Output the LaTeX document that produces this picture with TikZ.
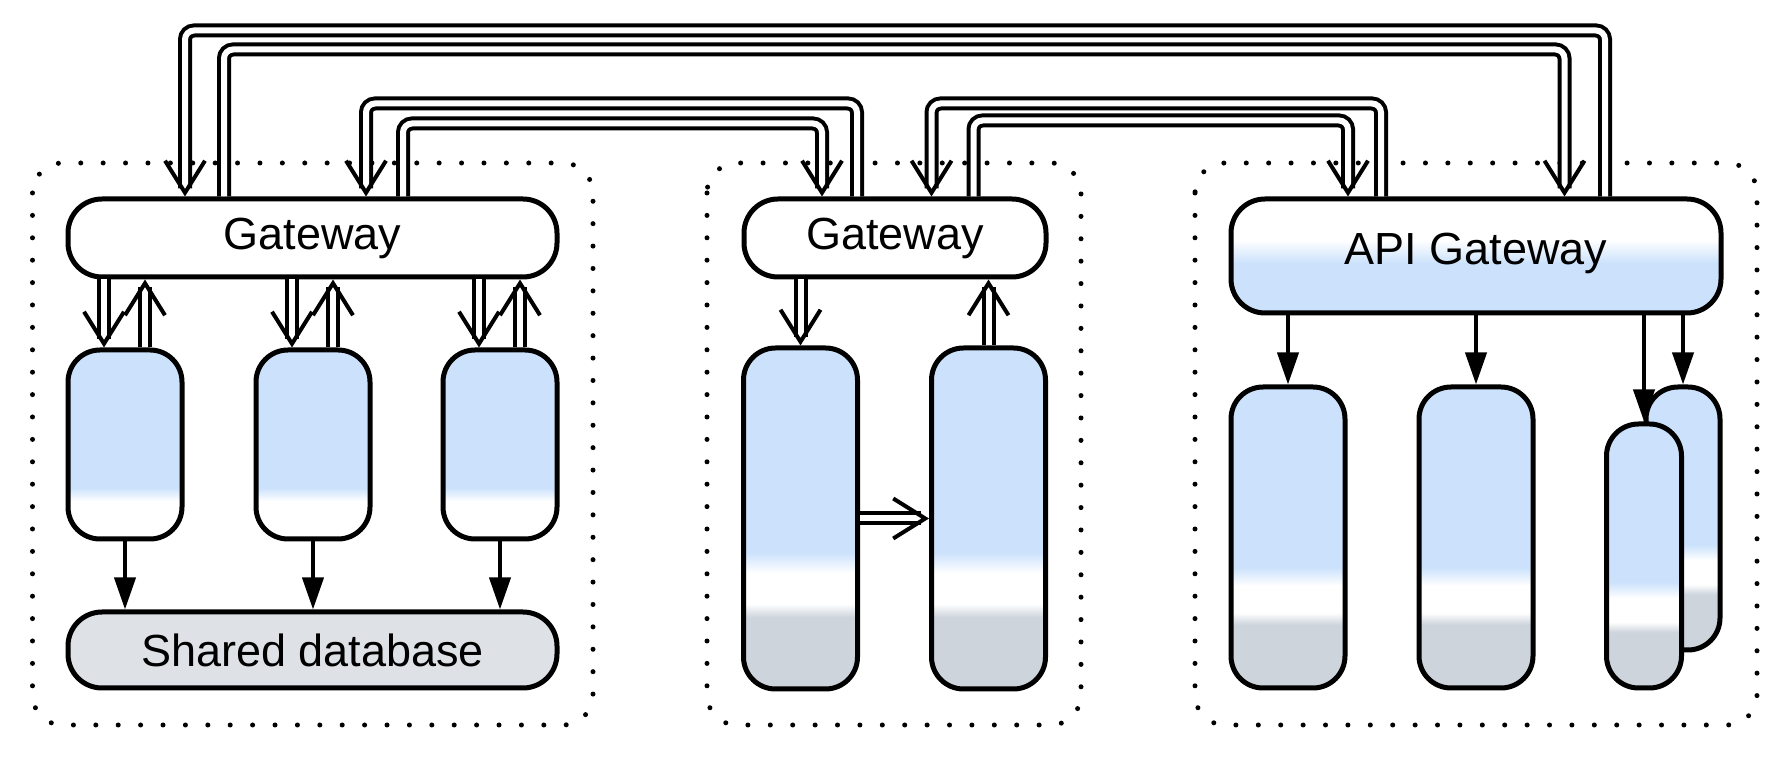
\documentclass[tikz,border=0pt]{standalone}
\usepackage{fontspec}
\setmainfont{Liberation Sans}
\usetikzlibrary{arrows.meta,calc}
\definecolor{sblue}{HTML}{CCE2FC}
\definecolor{sgray}{HTML}{CDD4DC}
\definecolor{dbgray}{HTML}{DEE1E6}
\pgfdeclareverticalshading{svshort}{100bp}{color(0bp)=(white); color(35bp)=(white); color(38.5bp)=(sblue); color(100bp)=(sblue)}
\pgfdeclareverticalshading{svtall}{100bp}{color(0bp)=(sgray); color(35.5bp)=(sgray); color(37.5bp)=(white); color(42bp)=(white); color(45bp)=(sblue); color(100bp)=(sblue)}
\pgfdeclareverticalshading{apishade}{100bp}{color(0bp)=(sblue); color(47bp)=(sblue); color(57bp)=(white); color(100bp)=(white)}
\newcommand\lblfont{\fontsize{22.5pt}{27pt}\selectfont}
\tikzset{
	box/.style={draw, line width=2.5pt, inner sep=0pt, font=\lblfont},
	gw/.style={box, rounded corners=17pt, fill=white, minimum height=39pt},
	svc/.style={box, rounded corners=16pt, minimum width=57pt},
	zone/.style={line width=2.5pt, line cap=round, dash pattern=on 0pt off 11.2pt, rounded corners=15pt},
	arr/.style={line width=2pt, -{Triangle[length=16pt,width=10.5pt]}},
	dbl/.style={line width=7pt, rounded corners=4.5pt, shorten >=4pt,
		postaction={draw=white, line width=3pt, shorten >=0pt,
			-{Straight Barb[color=black, length=16pt, width=20pt, line width'=2pt]}}}
}
\begin{document}
\begin{tikzpicture}[x=0.5pt,y=-0.5pt]
	\useasboundingbox (0,0) rectangle (1789,758);
	\draw[zone] (32.5,163) rectangle (593,725);
	\draw[zone] (707,163) rectangle (1081,725);
	\draw[zone] (1195,163) rectangle (1757,725);
	\node[gw, minimum width=244.5pt] (gwL) at (312.5,238) {Gateway};
	\node[svc, shade, shading=svshort, minimum height=94.5pt] (svL1) at (125,444.5) {};
	\node[svc, shade, shading=svshort, minimum height=94.5pt] (svL2) at (313,444.5) {};
	\node[svc, shade, shading=svshort, minimum height=94.5pt] (svL3) at (500,444.5) {};
	\node[box, rounded corners=17pt, fill=dbgray, minimum width=244.5pt, minimum height=38pt] (db) at (312.5,650) {Shared database};
	\node[gw, minimum width=151pt] (gwM) at (895,238) {Gateway};
	\node[svc, shade, shading=svtall, minimum height=170.5pt] (svM1) at (800.5,518.5) {};
	\node[svc, shade, shading=svtall, minimum height=170.5pt] (svM2) at (988.5,518.5) {};
	\node[box, rounded corners=17pt, shade, shading=apishade, text depth=7.5pt, minimum width=245pt, minimum height=57pt] (api) at (1476,256) {API Gateway};
	\node[svc, shade, shading=svtall, minimum height=150.5pt] (svR1) at (1288,537.5) {};
	\node[svc, shade, shading=svtall, minimum height=150.5pt] (svR2) at (1476,537.5) {};
	\node[svc, shade, shading=svtall, minimum width=37pt, minimum height=131.5pt] (svR3b) at (1683,518.5) {};
	\node[svc, shade, shading=svtall, minimum width=37.5pt, minimum height=132pt] (svR3a) at (1644,556) {};
	\draw[dbl] ([xshift=64.5pt]api.north) -- ++(0,-166) -| ([xshift=-63.75pt]gwL.north);
	\draw[dbl] ([xshift=-44.25pt]gwL.north) -- ++(0,-147) -| ([xshift=44.25pt]api.north);
	\draw[dbl] ([xshift=-19pt]gwM.north) -- ++(0,-93) -| ([xshift=26.75pt]gwL.north);
	\draw[dbl] ([xshift=45.25pt]gwL.north) -- ++(0,-73) -| ([xshift=-36.5pt]gwM.north);
	\draw[dbl] ([xshift=-47.5pt]api.north) -- ++(0,-93) -| ([xshift=18.25pt]gwM.north);
	\draw[dbl] ([xshift=39.25pt]gwM.north) -- ++(0,-76) -| ([xshift=-64pt]api.north);
	\foreach \s in {svL1,svL2,svL3}{
		\draw[dbl] ($(\s.north |- gwL.south)+(-21,0)$) -- ($(\s.north)+(-21,0)$);
		\draw[dbl] ($(\s.north)+(20,0)$) -- ($(\s.north |- gwL.south)+(20,0)$);
		\draw[arr] (\s.south) -- (\s.south |- db.north);
	}
	\draw[dbl] (gwM.south -| svM1.north) -- (svM1.north);
	\draw[dbl] (svM2.north) -- (svM2.north |- gwM.south);
	\draw[dbl] (svM1.east) -- (svM2.west);
	\foreach \s in {svR1,svR2,svR3a,svR3b}
		\draw[arr] (api.south -| \s.north) -- (\s.north);
\end{tikzpicture}
\end{document}
